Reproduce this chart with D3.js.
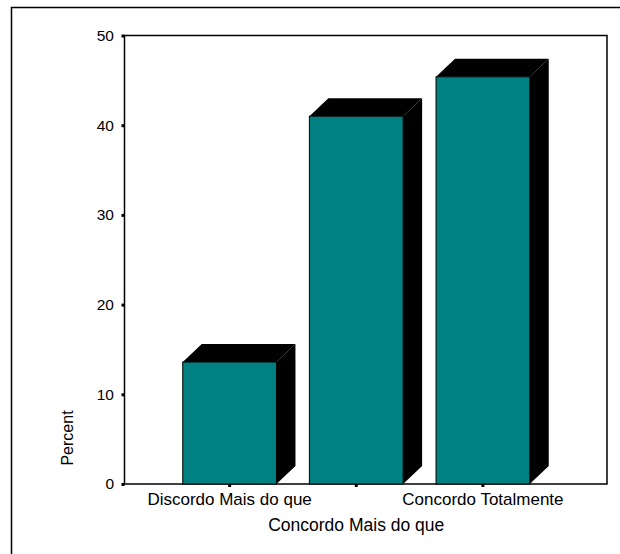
<!DOCTYPE html>
<html>
<head>
<meta charset="utf-8">
<script src="https://cdn.jsdelivr.net/npm/d3@7"></script>
<style>
  html, body { margin: 0; padding: 0; background: #fff; }
  svg { display: block; }
  text { font-family: "Liberation Sans", Arial, sans-serif; fill: #000; }
</style>
</head>
<body>
<svg id="chart" width="620" height="554"></svg>
<script>
const categories = ["Discordo Mais do que", "Concordo Mais do que", "Concordo Totalmente"];
const values = [13.6, 41.0, 45.4];
const xTickLabels = ["Discordo Mais do que", "", "Concordo Totalmente"];
const yTicks = [0, 10, 20, 30, 40, 50];
const xTitle = "Concordo Mais do que";
const yTitle = "Percent";

const svg = d3.select("#chart");
const plot = { left: 124.5, top: 35.5, right: 607, bottom: 484 };
const depth = { dx: 19, dy: 18 };

// outer frame (cut off at right/bottom)
svg.append("rect")
  .attr("x", 11.5).attr("y", 7.5).attr("width", 800).attr("height", 800)
  .attr("fill", "none").attr("stroke", "#000").attr("stroke-width", 1.5);

const x = d3.scaleBand()
  .domain(categories)
  .range([plot.left, plot.right - depth.dx])
  .paddingInner(0.26)
  .paddingOuter(0.46);

const y = d3.scaleLinear().domain([0, 50]).range([plot.bottom, plot.top]);

// plot box
svg.append("rect")
  .attr("x", plot.left).attr("y", plot.top)
  .attr("width", plot.right - plot.left).attr("height", plot.bottom - plot.top)
  .attr("fill", "none").attr("stroke", "#000").attr("stroke-width", 1.5);

// bars
const g = svg.append("g");
categories.forEach((c, i) => {
  const x0 = x(c), w = x.bandwidth(), yt = y(values[i]), yb = y(0);
  const dx = depth.dx, dy = depth.dy;
  g.append("path")
    .attr("d", `M${x0 + w},${yt}L${x0 + w + dx},${yt - dy}L${x0 + w + dx},${yb - dy}L${x0 + w},${yb}Z`)
    .attr("fill", "#000");
  g.append("path")
    .attr("d", `M${x0},${yt}L${x0 + dx},${yt - dy}L${x0 + w + dx},${yt - dy}L${x0 + w},${yt}Z`)
    .attr("fill", "#000");
  g.append("rect")
    .attr("x", x0).attr("y", yt).attr("width", w).attr("height", yb - yt)
    .attr("fill", "#008080").attr("stroke", "#000").attr("stroke-width", 1);
});

// y axis
const yAxis = svg.append("g")
  .attr("transform", `translate(${plot.left},0)`)
  .call(d3.axisLeft(y).tickValues(yTicks).tickSize(3).tickPadding(7.5).tickFormat(d3.format("d")));
yAxis.select(".domain").remove();
yAxis.selectAll(".tick line").attr("stroke", "#000").attr("stroke-width", 3);
yAxis.selectAll(".tick text").style("font-size", "15.5px")
  .attr("font-family", "Liberation Sans, Arial, sans-serif");

// x axis
const xAxis = svg.append("g")
  .attr("transform", `translate(0,${plot.bottom})`)
  .call(d3.axisBottom(x).tickSize(3).tickPadding(6).tickFormat((d, i) => xTickLabels[i]));
xAxis.select(".domain").remove();
xAxis.selectAll(".tick line").attr("stroke", "#000").attr("stroke-width", 3);
xAxis.selectAll(".tick text").style("font-size", "17px")
  .attr("font-family", "Liberation Sans, Arial, sans-serif");

// titles
svg.append("text")
  .attr("x", x(categories[1]) + x.bandwidth() / 2).attr("y", 530.5)
  .attr("text-anchor", "middle").style("font-size", "17.5px")
  .text(xTitle);

svg.append("text")
  .attr("transform", "translate(73,438) rotate(-90)")
  .attr("text-anchor", "middle").style("font-size", "16px")
  .text(yTitle);
</script>
</body>
</html>
